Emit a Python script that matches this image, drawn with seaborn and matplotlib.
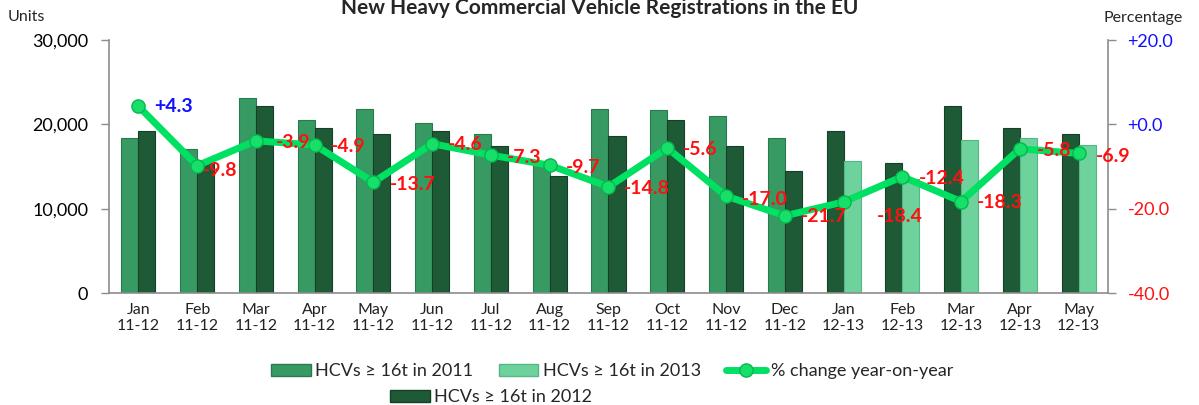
import numpy as np
import pandas as pd
import matplotlib
matplotlib.use("Agg")
import matplotlib.pyplot as plt
import seaborn as sns
from matplotlib.patches import Patch
from matplotlib.lines import Line2D

# ---------------- data ----------------
months = ["Jan", "Feb", "Mar", "Apr", "May", "Jun", "Jul", "Aug", "Sep", "Oct", "Nov", "Dec",
          "Jan", "Feb", "Mar", "Apr", "May"]
periods = ["11-12"] * 12 + ["12-13"] * 5
first_bar = [18400, 17050, 23090, 20550, 21860, 20200, 18860, 15380, 21860, 21740, 21030, 18420,
             19240, 15380, 22220, 19550, 18900]
second_bar = [19240, 15380, 22220, 19550, 18900, 19270, 17480, 13900, 18650, 20520, 17460, 14430,
              15700, 13470, 18150, 18420, 17600]
first_series = ["2011"] * 12 + ["2012"] * 5
second_series = ["2012"] * 12 + ["2013"] * 5
pct_change = [4.3, -9.8, -3.9, -4.9, -13.7, -4.6, -7.3, -9.7, -14.8, -5.6, -17.0, -21.7,
              -18.4, -12.4, -18.3, -5.8, -6.9]
left_ticks = [0, 10000, 20000, 30000]
right_ticks = [-40, -20, 0, 20]
series_names = {"2011": "HCVs \u2265 16t in 2011", "2012": "HCVs \u2265 16t in 2012",
                "2013": "HCVs \u2265 16t in 2013"}
line_name = "% change year-on-year"
title = "New Heavy Commercial Vehicle Registrations in the EU"

# ---------------- style ----------------
colors = {"2011": "#379a63", "2012": "#1f5a37", "2013": "#6ed29c"}
edges = {"2011": "#2a7a4d", "2012": "#163f27", "2013": "#55b783"}
line_color = "#00e062"
pos_color = "#1010ff"
neg_color = "#ff1010"
# label offsets in pixels (dx to left edge, dy downward)
label_dx = [16, 6, 20, 16, 16, 16, 16, 16, 15, 16, 16, 16, 33, 17, 16, 17, 17]
label_dy = [0, 5, 2, 1, 2, 1, 2, 2, 2, 2, 3, 1, 15, 2, 1, 2, 3]

sns.set_style("white")
plt.rcParams["font.family"] = ["Lato", "DejaVu Sans"]

labels = [f"{m}\n{p}" for m, p in zip(months, periods)]
df = pd.DataFrame({
    "cat": labels * 2,
    "slot": ["first"] * len(labels) + ["second"] * len(labels),
    "units": first_bar + second_bar,
})

fig = plt.figure(figsize=(11.99, 4.05), dpi=100)
ax = fig.add_axes([0.0909, 0.2765, 0.8332, 0.6247])

sns.barplot(data=df, x="cat", y="units", hue="slot", order=labels,
            hue_order=["first", "second"], dodge=True, width=0.58,
            palette=["#379a63", "#1f5a37"], legend=False, ax=ax, errorbar=None)
for container, ser in zip(ax.containers, [first_series, second_series]):
    for bar, s in zip(container, ser):
        bar.set_facecolor(colors[s])
        bar.set_edgecolor(edges[s])
        bar.set_linewidth(0.8)

ax.set_xlim(-0.5, len(labels) - 0.5)
ax.set_ylim(0, 30000)
ax.set_yticks(left_ticks)
ax.set_yticklabels([f"{t:,}" for t in left_ticks], fontsize=13)
ax.set_xlabel("")
ax.set_ylabel("")
ax.tick_params(axis="x", which="major", length=0, pad=7, labelsize=11.5, colors="#222222")
ax.set_xticks(np.arange(-0.5, len(labels), 1), minor=True)
ax.tick_params(axis="x", which="minor", length=5, width=1, color="#8c8c8c", direction="out")
ax.tick_params(axis="y", length=6, width=1, color="#8c8c8c", direction="out", pad=9,
               left=True, labelcolor="black")
for sp in ["top", "right"]:
    ax.spines[sp].set_visible(False)
for sp in ["left", "bottom"]:
    ax.spines[sp].set_color("#8c8c8c")
    ax.spines[sp].set_linewidth(1.2)

ax2 = ax.twinx()
sns.pointplot(x=labels, y=pct_change, order=labels, ax=ax2, color=line_color,
              markers="o", linestyles="-", linewidth=5, markersize=9.5, errorbar=None)
for ln in ax2.lines:
    ln.set_markerfacecolor("#17e06a")
    ln.set_markeredgecolor("#04b84c")
    ln.set_markeredgewidth(1.0)
ax2.set_xlim(-0.5, len(labels) - 0.5)
ax2.set_ylim(-40, 20)
ax2.set_yticks(right_ticks)
ax2.set_yticklabels([f"{t:+.1f}" for t in right_ticks], fontsize=13)
for t, lab in zip(right_ticks, ax2.get_yticklabels()):
    lab.set_color(pos_color if t >= 0 else neg_color)
ax2.tick_params(axis="y", length=6, width=1, color="#8c8c8c", direction="out", pad=8, right=True)
ax2.set_ylabel("")
ax2.set_xlabel("")
for sp in ["top", "left", "bottom"]:
    ax2.spines[sp].set_visible(False)
ax2.spines["right"].set_color("#8c8c8c")
ax2.spines["right"].set_linewidth(1.2)

for i, v in enumerate(pct_change):
    ax2.annotate(f"{v:+.1f}", xy=(i, v), xytext=(label_dx[i] * 0.72, -label_dy[i] * 0.72),
                 textcoords="offset points", ha="left", va="center", fontsize=14,
                 fontweight="bold", color=pos_color if v >= 0 else neg_color)

# texts
fig.text(0.5, 1 - 14 / 405, title, ha="center", va="baseline", fontsize=15, fontweight="bold")
fig.text(8 / 1199, 1 - 17 / 405, "Units", ha="left", va="center", fontsize=11.5)
fig.text(1183 / 1199, 1 - 18 / 405, "Percentage", ha="right", va="center", fontsize=11.5)

# legends
h2011 = Patch(facecolor=colors["2011"], edgecolor=edges["2011"])
h2012 = Patch(facecolor=colors["2012"], edgecolor=edges["2012"])
h2013 = Patch(facecolor=colors["2013"], edgecolor=edges["2013"])
hline = Line2D([], [], color=line_color, lw=5, marker="o", markersize=9.5,
               markerfacecolor="#17e06a", markeredgecolor="#04b84c")
leg1 = fig.legend([h2011, h2013, hline], [series_names["2011"], series_names["2013"], line_name],
                  loc="center", bbox_to_anchor=(612 / 1199, 1 - 371 / 405), ncol=3,
                  frameon=False, fontsize=13, handlelength=2.2, handleheight=0.65,
                  handletextpad=0.25, columnspacing=1.4)
leg2 = fig.legend([h2012], [series_names["2012"]], loc="center",
                  bbox_to_anchor=(491 / 1199, 1 - 397 / 405), frameon=False, fontsize=13,
                  handlelength=2.2, handleheight=0.65, handletextpad=0.25)

fig.savefig("out.png", dpi=100)
